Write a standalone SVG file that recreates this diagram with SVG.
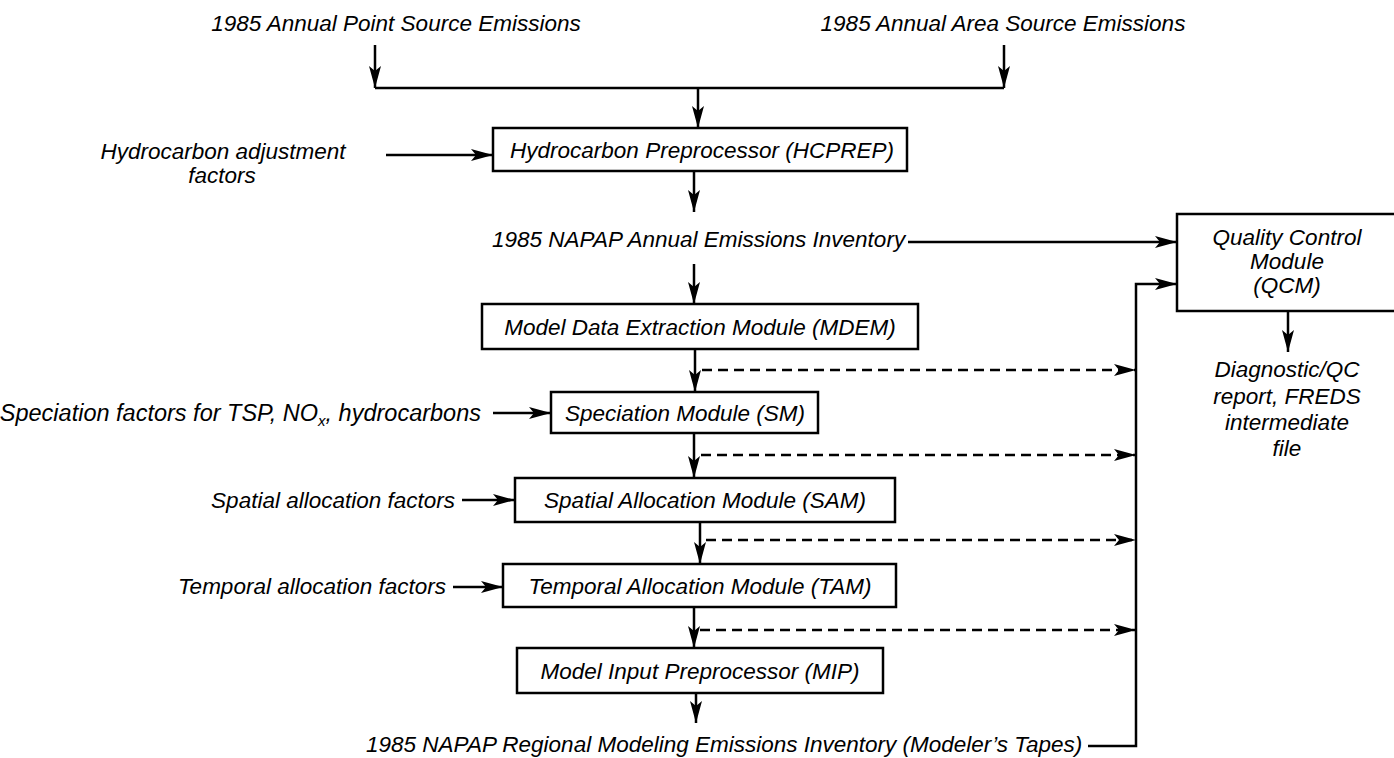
<svg xmlns="http://www.w3.org/2000/svg" width="1394" height="758" viewBox="0 0 1394 758">
<style>
text{font-family:"Liberation Sans",Arial,Helvetica,sans-serif;font-style:italic;font-size:22.5px;fill:#000}
.box{fill:#fff;stroke:#000;stroke-width:2.5}
.ln{fill:none;stroke:#000;stroke-width:2.5}
.ar{fill:none;stroke:#000;stroke-width:2.5;marker-end:url(#ah)}
.da{fill:none;stroke:#000;stroke-width:2.5;stroke-dasharray:10 6;marker-end:url(#ah)}
.m{text-anchor:middle}
.e{text-anchor:end}
</style>
<defs>
<marker id="ah" viewBox="0 0 22 12" refX="22" refY="6" markerWidth="22" markerHeight="12" markerUnits="userSpaceOnUse" orient="auto">
<path d="M0,0 L22,6 L0,12 L5,6 z" fill="#000"/>
</marker>
</defs>
<rect width="1394" height="758" fill="#fff"/>

<g id="connectors">
<line class="ar" x1="375" y1="45" x2="375" y2="88"/>
<line class="ar" x1="1004" y1="45" x2="1004" y2="88"/>
<line class="ln" x1="375" y1="88" x2="1004" y2="88"/>
<line class="ar" x1="698" y1="88" x2="698" y2="128"/>
<line class="ar" x1="386" y1="155" x2="493" y2="155"/>
<line class="ar" x1="694" y1="171" x2="694" y2="212"/>
<line class="ar" x1="908" y1="242" x2="1177" y2="242"/>
<line class="ar" x1="694" y1="264" x2="694" y2="304"/>
<line class="ar" x1="695" y1="349" x2="695" y2="392"/>
<line class="da" x1="702" y1="370" x2="1136" y2="370"/>
<line class="ar" x1="493" y1="413" x2="551" y2="413"/>
<line class="ar" x1="694" y1="433" x2="694" y2="478"/>
<line class="da" x1="701" y1="455" x2="1136" y2="455"/>
<line class="ar" x1="462" y1="500" x2="515" y2="500"/>
<line class="ar" x1="700" y1="522" x2="700" y2="564"/>
<line class="da" x1="706" y1="540" x2="1136" y2="540"/>
<line class="ar" x1="453" y1="587" x2="503" y2="587"/>
<line class="ar" x1="694" y1="607" x2="694" y2="648"/>
<line class="da" x1="700" y1="630" x2="1136" y2="630"/>
<line class="ar" x1="696" y1="693" x2="696" y2="723"/>
<polyline class="ar" points="1088,746 1136,746 1136,284 1177,284"/>
<line class="ar" x1="1288" y1="311" x2="1288" y2="352"/>
</g>

<g id="point-source"><text class="m" x="396" y="31">1985 Annual Point Source Emissions</text></g>
<g id="area-source"><text class="m" x="1003" y="31">1985 Annual Area Source Emissions</text></g>

<g id="hc-factors">
<text class="m" x="223" y="159">Hydrocarbon adjustment</text>
<text class="m" x="222" y="183">factors</text>
</g>

<g id="hcprep">
<rect class="box" x="493" y="128" width="414" height="43"/>
<text class="m" x="702" y="158">Hydrocarbon Preprocessor (HCPREP)</text>
</g>

<g id="napap-annual"><text x="492" y="247">1985 NAPAP Annual Emissions Inventory</text></g>

<g id="qcm">
<rect class="box" x="1177" y="214" width="222" height="97"/>
<text class="m" x="1287" y="245">Quality Control</text>
<text class="m" x="1287" y="269">Module</text>
<text class="m" x="1287" y="293">(QCM)</text>
</g>

<g id="diagnostic">
<text class="m" x="1287" y="377">Diagnostic/QC</text>
<text class="m" x="1287" y="404">report, FREDS</text>
<text class="m" x="1287" y="430">intermediate</text>
<text class="m" x="1287" y="456">file</text>
</g>

<g id="mdem">
<rect class="box" x="482" y="304" width="436" height="45"/>
<text class="m" x="700" y="335">Model Data Extraction Module (MDEM)</text>
</g>

<g id="speciation-factors"><text class="e" x="481" y="421" style="font-size:23.5px">Speciation factors for TSP, NO<tspan style="font-size:15px" dy="5">x</tspan><tspan dy="-5">, hydrocarbons</tspan></text></g>

<g id="sm">
<rect class="box" x="551" y="392" width="267" height="41"/>
<text class="m" x="685" y="421">Speciation Module (SM)</text>
</g>

<g id="spatial-factors"><text class="e" x="455" y="508">Spatial allocation factors</text></g>

<g id="sam">
<rect class="box" x="515" y="478" width="380" height="44"/>
<text class="m" x="705" y="508">Spatial Allocation Module (SAM)</text>
</g>

<g id="temporal-factors"><text class="e" x="446" y="594">Temporal allocation factors</text></g>

<g id="tam">
<rect class="box" x="503" y="564" width="393" height="43"/>
<text class="m" x="700" y="594">Temporal Allocation Module (TAM)</text>
</g>

<g id="mip">
<rect class="box" x="517" y="648" width="366" height="45"/>
<text class="m" x="700" y="679">Model Input Preprocessor (MIP)</text>
</g>

<g id="napap-regional"><text x="366" y="752">1985 NAPAP Regional Modeling Emissions Inventory (Modeler’s Tapes)</text></g>
</svg>
